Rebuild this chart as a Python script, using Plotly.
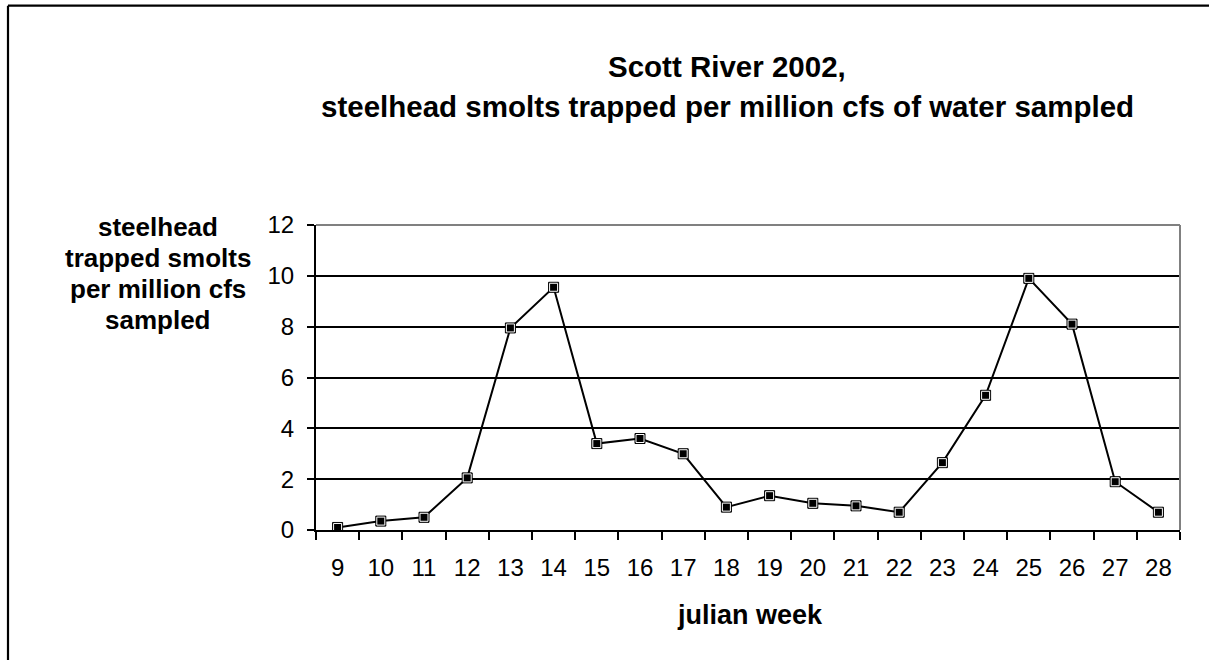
import plotly.graph_objects as go

weeks = ["9", "10", "11", "12", "13", "14", "15", "16", "17", "18",
         "19", "20", "21", "22", "23", "24", "25", "26", "27", "28"]
smolts_per_million_cfs = [0.1, 0.35, 0.5, 2.05, 7.95, 9.55, 3.4, 3.6, 3.0, 0.9,
                          1.35, 1.05, 0.95, 0.7, 2.65, 5.3, 9.9, 8.1, 1.9, 0.7]
y_ticks = [0, 2, 4, 6, 8, 10, 12]

title_lines = ["Scott River 2002,", "steelhead smolts trapped per million cfs of water sampled"]
y_title_lines = ["steelhead", "trapped smolts", "per million cfs", "sampled"]
x_title = "julian week"

W, H = 1209, 660
L, R, T, B = 316, 1180, 225, 530
pw, ph = R - L, B - T

def px(x):
    return (x - L) / pw

def py(y):
    return (B - y) / ph

font_fam = "Liberation Sans, Arial, sans-serif"

fig = go.Figure()
fig.add_trace(go.Scatter(
    x=weeks, y=smolts_per_million_cfs, mode="lines+markers",
    line=dict(color="black", width=2),
    marker=dict(symbol="square", size=10, color="black", line=dict(color="black", width=1)),
    hoverinfo="x+y", showlegend=False,
))
fig.add_trace(go.Scatter(
    x=weeks, y=smolts_per_million_cfs, mode="markers",
    marker=dict(symbol="square-open", size=8, color="white", line=dict(color="white", width=1)),
    hoverinfo="skip", showlegend=False,
))

annotations = []
# chart title, one annotation per line
for i, line in enumerate(title_lines):
    annotations.append(dict(
        text=line, xref="paper", yref="paper", x=px(727), y=py(66.5 + 40 * i),
        xanchor="center", yanchor="middle", showarrow=False,
        font=dict(family=font_fam, size=29.5, color="black", weight="bold")))
# y axis title, one annotation per line
for i, line in enumerate(y_title_lines):
    annotations.append(dict(
        text=line, xref="paper", yref="paper", x=px(158), y=py(227 + 31 * i),
        xanchor="center", yanchor="middle", showarrow=False,
        font=dict(family=font_fam, size=26, color="black", weight="bold")))
annotations.append(dict(
    text=x_title, xref="paper", yref="paper", x=px(750), y=py(615),
    xanchor="center", yanchor="middle", showarrow=False,
    font=dict(family=font_fam, size=27, color="black", weight="bold")))

fig.update_layout(
    width=W, height=H,
    margin=dict(l=L, r=W - R, t=T, b=H - B, pad=0),
    paper_bgcolor="white", plot_bgcolor="white",
    font=dict(family=font_fam, size=24, color="black"),
    xaxis=dict(
        type="category", range=[-0.5, len(weeks) - 0.5],
        tickson="boundaries", ticks="outside", ticklen=8, tickwidth=2, tickcolor="black",
        showline=True, linecolor="black", linewidth=2, showgrid=False, zeroline=False,
        tickfont=dict(family=font_fam, size=24), ticklabelstandoff=15,
    ),
    yaxis=dict(
        range=[0, 12], tickvals=y_ticks, ticks="outside", ticklen=7, tickwidth=2, tickcolor="black",
        showline=True, linecolor="black", linewidth=2,
        showgrid=True, gridcolor="black", gridwidth=1.8, zeroline=False,
        tickfont=dict(family=font_fam, size=24), ticklabelstandoff=8,
    ),
    shapes=[
        dict(type="line", xref="paper", yref="paper", x0=0, x1=1, y0=1, y1=1,
             line=dict(color="#808080", width=2), layer="above"),
        dict(type="line", xref="paper", yref="paper", x0=1, x1=1, y0=0, y1=1,
             line=dict(color="#808080", width=2), layer="above"),
        dict(type="line", xref="paper", yref="paper", x0=px(8), x1=px(1230), y0=py(5.7), y1=py(5.7),
             line=dict(color="black", width=2.2)),
        dict(type="line", xref="paper", yref="paper", x0=px(8), x1=px(8), y0=py(5.7), y1=py(700),
             line=dict(color="black", width=2.2)),
    ],
    annotations=annotations,
)

fig.write_html("out.html")
